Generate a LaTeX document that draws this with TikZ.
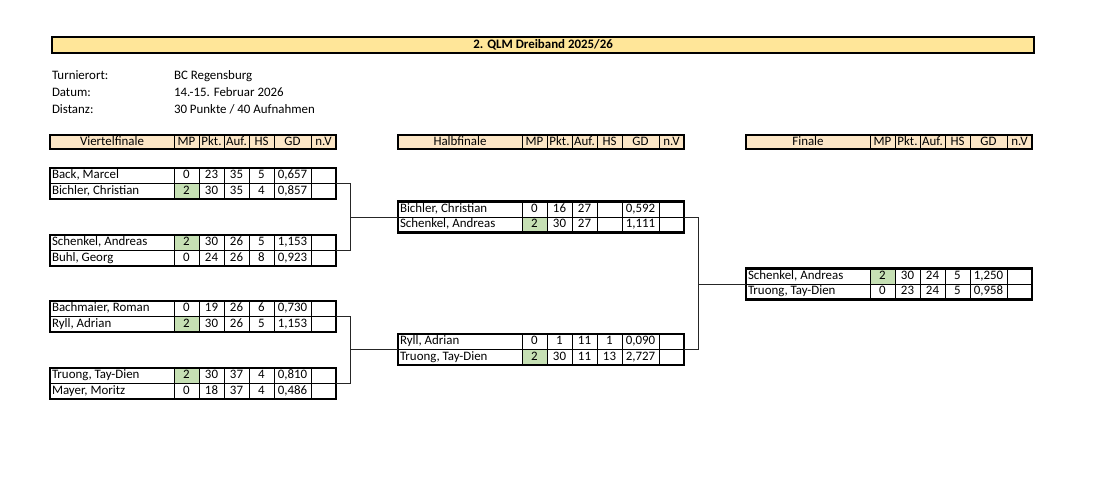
\documentclass[tikz,border=0pt]{standalone}
\usepackage{fontspec}
\setmainfont{Carlito}
\usetikzlibrary{calc}
\definecolor{titlefill}{HTML}{FFE699}
\definecolor{headfill}{HTML}{FCE6C6}
\definecolor{winfill}{HTML}{C6E0B4}
\tikzset{
 cell/.style={inner sep=0pt, outer sep=0pt, text height=8.6pt, text depth=2.2pt, font=\fontsize{12.9}{14}\selectfont},
 gridline/.style={line width=0.9pt, black},
 mbox/.style={draw, line width=2.6pt, inner sep=0pt, outer sep=0pt, minimum width=286pt, minimum height=31pt, anchor=north west},
 hbox/.style={draw, line width=1.7pt, fill=headfill, inner sep=0pt, outer sep=0pt, minimum width=286pt, minimum height=14pt, anchor=north west},
 conn/.style={line width=0.9pt, black!85},
}
\newcommand\prow[8]{%
 \fill[#2] (124,0) rectangle (149,15.5);
 \foreach \xx in {124,149,174,199,224,261} {\draw[gridline] (\xx,0) -- (\xx,15.5);}
 \node[cell,anchor=west] (#1-n) at (2,7.75) {#3};
 \node[cell] (#1-mp) at (136.5,7.75) {#4};
 \node[cell] (#1-pk) at (161.5,7.75) {#5};
 \node[cell] (#1-au) at (186.5,7.75) {#6};
 \node[cell] (#1-hs) at (211.5,7.75) {#7};
 \node[cell] (#1-gd) at (242.5,7.75) {#8};
}
\newcommand\phead[2]{%
 \node[hbox] (#1) at (0,0) {};
 \foreach \xx in {124,149,174,199,224,261} {\draw[line width=1pt] (\xx,0) -- (\xx,14);}
 \node[cell] (#1-t) at (62,7) {#2};
 \node[cell] (#1-mp) at (136.5,7) {MP};
 \node[cell] (#1-pk) at (161.5,7) {Pkt.};
 \node[cell] (#1-au) at (186.5,7) {Auf.};
 \node[cell] (#1-hs) at (211.5,7) {HS};
 \node[cell] (#1-gd) at (242.5,7) {GD};
 \node[cell] (#1-nv) at (273.5,7) {n.V};
}
\newcommand\pbox[1]{%
 \draw[gridline] (0,15.5) -- (286,15.5);
 \node[mbox] (#1) at (0,0) {};
}
\begin{document}
\begin{tikzpicture}[x=1pt,y=-1pt]
\useasboundingbox[fill=white] (0,0) rectangle (1100,496);
% title
\node[draw, line width=2.2pt, fill=titlefill, inner sep=0pt, minimum width=982pt, minimum height=16pt, anchor=north west] (title) at (51,36) {};
\node[cell, font=\fontsize{12.9}{14}\selectfont\bfseries] (title-t) at (title.center) {2. QLM Dreiband 2025/26};
% info
\node[cell,anchor=west] (l1) at (52,76) {Turnierort:};
\node[cell,anchor=west] (l2) at (52,93) {Datum:};
\node[cell,anchor=west] (l3) at (52,110) {Distanz:};
\node[cell,anchor=west] (v1) at (174,76) {BC Regensburg};
\node[cell,anchor=west] (v2) at (174,93) {14.-15. Februar 2026};
\node[cell,anchor=west] (v3) at (174,110) {30 Punkte / 40 Aufnahmen};
% headers
\begin{scope}[shift={(50,135)}]\phead{hq}{Viertelfinale}\end{scope}
\begin{scope}[shift={(398,135)}]\phead{hh}{Halbfinale}\end{scope}
\begin{scope}[shift={(746,135)}]\phead{hf}{Finale}\end{scope}
% quarterfinals
\begin{scope}[shift={(50,168)}]
 \prow{q1a}{white}{Back, Marcel}{0}{23}{35}{5}{0,657}
 \begin{scope}[shift={(0,15.5)}]\prow{q1b}{winfill}{Bichler, Christian}{2}{30}{35}{4}{0,857}\end{scope}
 \pbox{q1}
\end{scope}
\begin{scope}[shift={(50,235)}]
 \prow{q2a}{winfill}{Schenkel, Andreas}{2}{30}{26}{5}{1,153}
 \begin{scope}[shift={(0,15.5)}]\prow{q2b}{white}{Buhl, Georg}{0}{24}{26}{8}{0,923}\end{scope}
 \pbox{q2}
\end{scope}
\begin{scope}[shift={(50,301)}]
 \prow{q3a}{white}{Bachmaier, Roman}{0}{19}{26}{6}{0,730}
 \begin{scope}[shift={(0,15.5)}]\prow{q3b}{winfill}{Ryll, Adrian}{2}{30}{26}{5}{1,153}\end{scope}
 \pbox{q3}
\end{scope}
\begin{scope}[shift={(50,368)}]
 \prow{q4a}{winfill}{Truong, Tay-Dien}{2}{30}{37}{4}{0,810}
 \begin{scope}[shift={(0,15.5)}]\prow{q4b}{white}{Mayer, Moritz}{0}{18}{37}{4}{0,486}\end{scope}
 \pbox{q4}
\end{scope}
% semifinals
\begin{scope}[shift={(398,201.5)}]
 \prow{h1a}{white}{Bichler, Christian}{0}{16}{27}{}{0,592}
 \begin{scope}[shift={(0,15.5)}]\prow{h1b}{winfill}{Schenkel, Andreas}{2}{30}{27}{}{1,111}\end{scope}
 \pbox{h1}
\end{scope}
\begin{scope}[shift={(398,334)}]
 \prow{h2a}{white}{Ryll, Adrian}{0}{1}{11}{1}{0,090}
 \begin{scope}[shift={(0,15.5)}]\prow{h2b}{winfill}{Truong, Tay-Dien}{2}{30}{11}{13}{2,727}\end{scope}
 \pbox{h2}
\end{scope}
% final
\begin{scope}[shift={(746,268.5)}]
 \prow{f1a}{winfill}{Schenkel, Andreas}{2}{30}{24}{5}{1,250}
 \begin{scope}[shift={(0,15.5)}]\prow{f1b}{white}{Truong, Tay-Dien}{0}{23}{24}{5}{0,958}\end{scope}
 \pbox{f1}
\end{scope}
% connectors
\draw[conn] (q1.east) -- ++(14,0) coordinate (j1) |- (q2.east);
\draw[conn] (h1.west) -- (h1.west -| j1);
\draw[conn] (q3.east) -- ++(14,0) coordinate (j2) |- (q4.east);
\draw[conn] (h2.west) -- (h2.west -| j2);
\draw[conn] (h1.east) -- ++(14,0) coordinate (j3) |- (h2.east);
\draw[conn] (f1.west) -- (f1.west -| j3);
\end{tikzpicture}
\end{document}
